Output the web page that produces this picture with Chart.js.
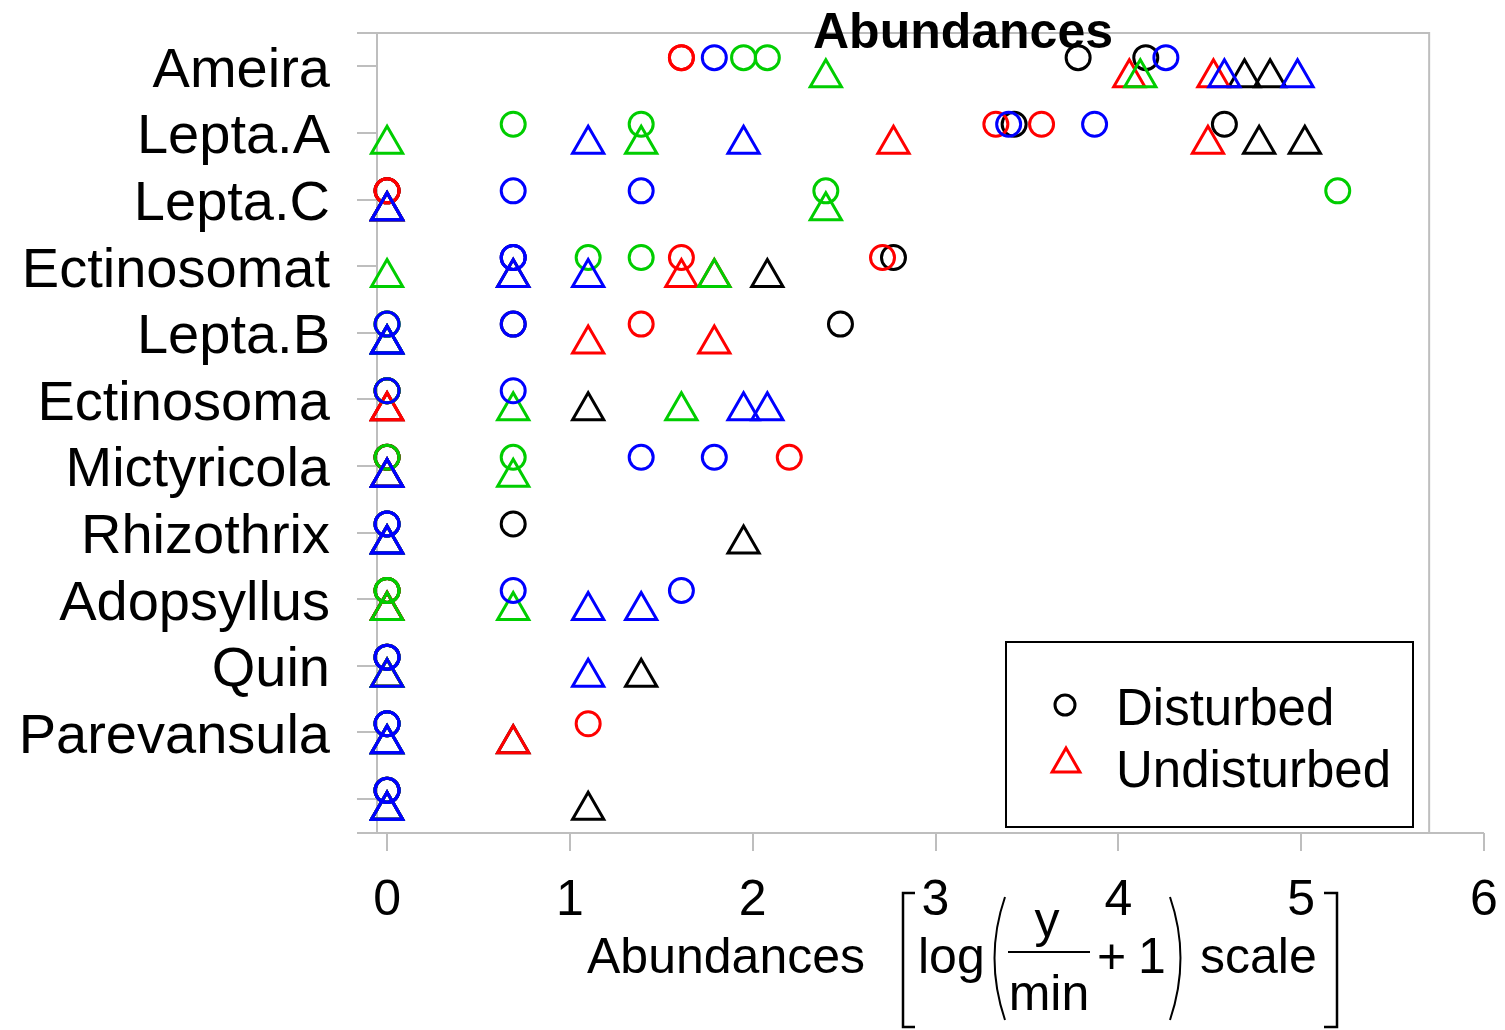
<!DOCTYPE html>
<html><head><meta charset="utf-8">
<script src="https://cdn.jsdelivr.net/npm/chart.js@4.4.1/dist/chart.umd.min.js"></script>
<style>html,body{margin:0;padding:0;background:#fff;}canvas{display:block;}</style>
</head><body>
<canvas id="c" width="1505" height="1030"></canvas>
<script>
const categories = ["Ameira","Lepta.A","Lepta.C","Ectinosomat","Lepta.B","Ectinosoma","Mictyricola","Rhizothrix","Adopsyllus","Quin","Parevansula",""];
const xTickValues = [0,1,2,3,4,5,6];
const xTickLabels = ["0","1","2","3","4","5","6"];
const legendLabels = ["Disturbed","Undisturbed"];

// Disturbed (circles): two values per category, by colour group
const disturbedBlack = [[3.78,4.15],[3.43,4.58],[0,0],[0.69,2.77],[0.69,2.48],[0,0],[0,0],[0.69,0],[0,0],[0,0],[0,0],[0,0]];
const disturbedRed   = [[1.61,1.61],[3.33,3.58],[0,0],[1.61,2.71],[1.39,0],[0,0],[2.20,0],[0,0],[0,0],[0,0],[1.10,0],[0,0]];
const disturbedGreen = [[1.95,2.08],[0.69,1.39],[2.40,5.20],[1.10,1.39],[0,0],[0,0],[0.69,0],[0,0],[0,0],[0,0],[0,0],[0,0]];
const disturbedBlue  = [[1.79,4.26],[3.40,3.87],[0.69,1.39],[0.69,0.69],[0.69,0],[0.69,0],[1.39,1.79],[0,0],[0.69,1.61],[0,0],[0,0],[0,0]];

// Undisturbed (triangles)
const undisturbedBlack = [[4.69,4.83],[4.77,5.02],[0,0],[2.08,0.69],[0,0],[1.10,0],[0,0],[1.95,0],[0,0],[1.39,0],[0.69,0],[1.10,0]];
const undisturbedRed   = [[4.06,4.52],[2.77,4.49],[0,0],[1.61,1.79],[1.10,1.79],[0,0],[0,0],[0,0],[0,0],[0,0],[0.69,0],[0,0]];
const undisturbedGreen = [[2.40,4.12],[0,1.39],[2.40,0],[0,1.79],[0,0],[0.69,1.61],[0.69,0],[0,0],[0.69,0],[0,0],[0,0],[0,0]];
const undisturbedBlue  = [[4.58,4.98],[1.10,1.95],[0,0],[0.69,1.10],[0,0],[1.95,2.08],[0,0],[0,0],[1.10,1.39],[1.10,0],[0,0],[0,0]];

const FONT = '"Liberation Sans", Arial, sans-serif';
const COL = {black:'#000000', red:'#FF0000', green:'#00CD00', blue:'#0000FF', grid:'#bebebe'};

function mk(label, vals, color, shape, order){
  const yOff = shape === 'circle' ? -0.13 : 0.17;
  const data = [];
  vals.forEach((pair, i) => pair.forEach(v => data.push({x: v, y: i + yOff})));
  return {
    label, data, order, showLine:false, clip:false,
    pointStyle: shape,
    pointRadius: shape === 'circle' ? 12 : 18,
    pointHoverRadius: shape === 'circle' ? 12 : 18,
    pointBorderWidth: 3, pointHoverBorderWidth: 3,
    pointBorderColor: color, pointBackgroundColor: 'rgba(0,0,0,0)',
    borderColor: color, backgroundColor: 'rgba(0,0,0,0)'
  };
}

const datasets = [
  mk('Disturbed', disturbedBlack, COL.black, 'circle', 7),
  mk('Undisturbed', undisturbedBlack, COL.black, 'triangle', 6),
  mk('Disturbed', disturbedRed, COL.red, 'circle', 5),
  mk('Undisturbed', undisturbedRed, COL.red, 'triangle', 4),
  mk('Disturbed', disturbedGreen, COL.green, 'circle', 3),
  mk('Undisturbed', undisturbedGreen, COL.green, 'triangle', 2),
  mk('Disturbed', disturbedBlue, COL.blue, 'circle', 1),
  mk('Undisturbed', undisturbedBlue, COL.blue, 'triangle', 0)
];

const axesPlugin = {
  id: 'axesPlugin',
  beforeDatasetsDraw(chart){
    const {ctx, chartArea:a, scales:{x, y}} = chart;
    const right = x.getPixelForValue(5.70);
    const tickLeft = a.left - 20;
    ctx.save();
    ctx.strokeStyle = COL.grid; ctx.lineWidth = 2;
    // frame
    ctx.beginPath();
    ctx.moveTo(tickLeft, a.top); ctx.lineTo(right, a.top); ctx.lineTo(right, a.bottom);
    ctx.moveTo(tickLeft, a.bottom); ctx.lineTo(x.getPixelForValue(6), a.bottom);
    ctx.moveTo(a.left, a.top); ctx.lineTo(a.left, a.bottom);
    ctx.stroke();
    // y ticks
    ctx.beginPath();
    categories.forEach((c, i) => {
      const py = Math.round(y.getPixelForValue(i));
      ctx.moveTo(tickLeft, py); ctx.lineTo(a.left, py);
    });
    // x ticks
    xTickValues.forEach(v => {
      const px = Math.round(x.getPixelForValue(v));
      ctx.moveTo(px, a.bottom); ctx.lineTo(px, a.bottom + 18);
    });
    ctx.stroke();
    ctx.restore();
  },
  afterDraw(chart){
    const {ctx, chartArea:a, scales:{x, y}} = chart;
    ctx.save();
    ctx.fillStyle = '#000'; ctx.strokeStyle = '#000';
    // y labels
    ctx.font = '56px ' + FONT;
    ctx.textAlign = 'right'; ctx.textBaseline = 'middle';
    categories.forEach((c, i) => ctx.fillText(c, a.left - 47, y.getPixelForValue(i) + 5));
    // x tick labels
    ctx.font = '50px ' + FONT;
    ctx.textAlign = 'center'; ctx.textBaseline = 'alphabetic';
    xTickValues.forEach((v, i) => ctx.fillText(xTickLabels[i], x.getPixelForValue(v), 915));
    // title
    ctx.font = 'bold 50px ' + FONT;
    ctx.textAlign = 'center';
    ctx.fillText('Abundances', 963, 48);
    // x axis title expression
    ctx.font = '50px ' + FONT;
    ctx.textAlign = 'left';
    ctx.fillText('Abundances', 587, 973);
    ctx.fillText('log', 918, 973);
    ctx.fillText('+', 1097, 973);
    ctx.fillText('1', 1138, 973);
    ctx.fillText('scale', 1200, 973);
    ctx.textAlign = 'center';
    ctx.fillText('y', 1047, 937);
    ctx.fillText('min', 1049, 1010);
    ctx.lineWidth = 2;
    ctx.beginPath(); ctx.moveTo(1008, 952); ctx.lineTo(1090, 952); ctx.stroke();
    ctx.lineWidth = 2.5;
    ctx.beginPath(); ctx.moveTo(915, 893); ctx.lineTo(903, 893); ctx.lineTo(903, 1027); ctx.lineTo(915, 1027); ctx.stroke();
    ctx.beginPath(); ctx.moveTo(1324, 893); ctx.lineTo(1337, 893); ctx.lineTo(1337, 1027); ctx.lineTo(1324, 1027); ctx.stroke();
    ctx.lineWidth = 2;
    ctx.beginPath(); ctx.moveTo(1005, 897); ctx.quadraticCurveTo(984, 958, 1005, 1020); ctx.stroke();
    ctx.beginPath(); ctx.moveTo(1170, 897); ctx.quadraticCurveTo(1191, 958, 1170, 1020); ctx.stroke();
    // legend
    ctx.lineWidth = 2;
    ctx.strokeRect(1006, 642, 407, 185);
    ctx.lineWidth = 3;
    ctx.beginPath(); ctx.arc(1065, 705, 10, 0, Math.PI*2); ctx.stroke();
    ctx.strokeStyle = COL.red;
    const r = 16, cx = 1066, cy = 764;
    ctx.beginPath();
    ctx.moveTo(cx, cy - r);
    ctx.lineTo(cx + r*Math.sin(2*Math.PI/3), cy - r*Math.cos(2*Math.PI/3));
    ctx.lineTo(cx + r*Math.sin(4*Math.PI/3), cy - r*Math.cos(4*Math.PI/3));
    ctx.closePath(); ctx.stroke();
    ctx.font = '51px ' + FONT; ctx.textAlign = 'left'; ctx.fillStyle = '#000';
    ctx.fillText(legendLabels[0], 1116, 725);
    ctx.fillText(legendLabels[1], 1116, 787);
    ctx.restore();
  }
};

new Chart(document.getElementById('c'), {
  type: 'scatter',
  data: { datasets },
  options: {
    responsive: false, animation: false, events: [],
    layout: { padding: { left: 377, top: 33, right: 18, bottom: 197 } },
    plugins: { legend: { display: false }, tooltip: { enabled: false }, title: { display: false } },
    scales: {
      x: { type: 'linear', display: false, min: -0.055, max: 6 },
      y: { type: 'linear', display: false, reverse: true, min: -0.5, max: 11.51 }
    }
  },
  plugins: [axesPlugin]
});
</script>
</body></html>
